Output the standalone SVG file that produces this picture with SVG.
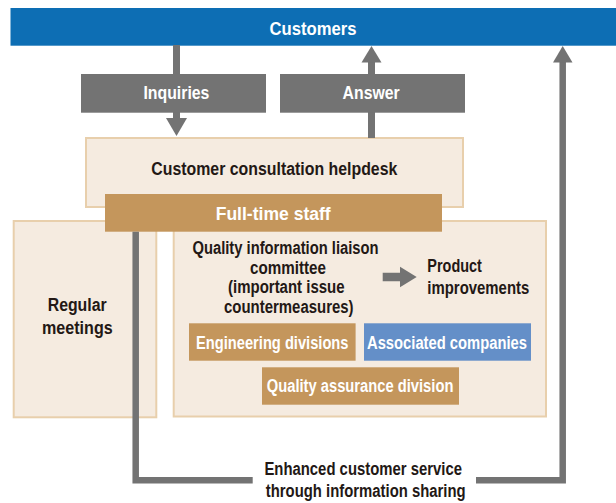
<svg xmlns="http://www.w3.org/2000/svg" width="616" height="503" viewBox="0 0 616 503">
<style>
text{font-family:"Liberation Sans Narrow","Liberation Sans",Arial,sans-serif;font-weight:bold;font-size:18px}
.w{fill:#ffffff}
.d{fill:#231815}
.bg{fill:#f5ebe0;stroke:#e8cfac;stroke-width:2}
.gold{fill:#c4965c}
.gray{fill:#737373}
.ln{fill:none;stroke:#737373;stroke-width:7}
.fb{fill:none;stroke:#737373;stroke-width:6.5;stroke-linejoin:miter}
</style>
<rect width="616" height="503" fill="#ffffff"/>
<g id="customers">
<rect x="10.5" y="8" width="606" height="37.7" fill="#0d6eb4"/>
<text class="w" x="269.5" y="35" font-size="21" textLength="87" lengthAdjust="spacingAndGlyphs">Customers</text>
</g>
<g id="regular-meetings">
<rect class="bg" x="13.7" y="221" width="142.6" height="196.3"/>
<text class="d" x="47.7" y="311" font-size="19" textLength="59" lengthAdjust="spacingAndGlyphs">Regular</text>
<text class="d" x="42" y="334.3" font-size="19" textLength="70.7" lengthAdjust="spacingAndGlyphs">meetings</text>
</g>
<g id="committee">
<rect class="bg" x="173.7" y="221" width="372.3" height="195.5"/>
<text class="d" x="192.5" y="254" textLength="186" lengthAdjust="spacingAndGlyphs">Quality information liaison</text>
<text class="d" x="250" y="273.5" textLength="76" lengthAdjust="spacingAndGlyphs">committee</text>
<text class="d" x="228" y="293.3" textLength="116.6" lengthAdjust="spacingAndGlyphs">(important issue</text>
<text class="d" x="224" y="312.7" textLength="129.6" lengthAdjust="spacingAndGlyphs">countermeasures)</text>
</g>
<g id="product-improvements">
<text class="d" x="427.3" y="272.3" textLength="54.6" lengthAdjust="spacingAndGlyphs">Product</text>
<text class="d" x="427.3" y="294" textLength="102" lengthAdjust="spacingAndGlyphs">improvements</text>
</g>
<g id="engineering">
<rect class="gold" x="189" y="323.3" width="166.6" height="37.4"/>
<text class="w" x="196" y="349" textLength="152.5" lengthAdjust="spacingAndGlyphs">Engineering divisions</text>
</g>
<g id="associated">
<rect x="364" y="323.3" width="167" height="37.4" fill="#648fc8"/>
<text class="w" x="367" y="349" textLength="160" lengthAdjust="spacingAndGlyphs">Associated companies</text>
</g>
<g id="quality-assurance">
<rect class="gold" x="262" y="367.3" width="197" height="37.4"/>
<text class="w" x="266.8" y="391.7" textLength="186.6" lengthAdjust="spacingAndGlyphs">Quality assurance division</text>
</g>
<g id="helpdesk">
<rect class="bg" x="86" y="138" width="377" height="69"/>
<text class="d" x="151.3" y="175" textLength="246" lengthAdjust="spacingAndGlyphs">Customer consultation helpdesk</text>
</g>
<g id="fulltime-staff">
<rect class="gold" x="105" y="194" width="337" height="37.7"/>
<text class="w" x="215.7" y="220" font-size="19" textLength="115" lengthAdjust="spacingAndGlyphs">Full-time staff</text>
</g>
<g id="connectors">
<line class="ln" x1="176.5" y1="45" x2="176.5" y2="119"/>
<polygon class="gray" points="166,118 187,118 176.5,136"/>
<line class="ln" x1="371.5" y1="138" x2="371.5" y2="61"/>
<polygon class="gray" points="361.5,62.5 381.5,62.5 371.5,46"/>
<path class="fb" d="M135.7,231.7 V480.3 H252.7"/>
<path class="fb" d="M476,480.3 H562.7 V61"/>
<polygon class="gray" points="553,62.5 572.5,62.5 562.7,46"/>
<line x1="382.7" y1="277" x2="401" y2="277" stroke="#737373" stroke-width="8.5"/>
<polygon class="gray" points="400,266.7 416.7,277 400,287.3"/>
</g>
<g id="inquiries">
<rect class="gray" x="81" y="74" width="185" height="38.7"/>
<text class="w" x="143.4" y="99" textLength="66" lengthAdjust="spacingAndGlyphs">Inquiries</text>
</g>
<g id="answer">
<rect class="gray" x="280" y="74" width="185" height="38.7"/>
<text class="w" x="342.6" y="99" textLength="57" lengthAdjust="spacingAndGlyphs">Answer</text>
</g>
<g id="enhanced-label">
<text class="d" x="264.4" y="475" textLength="197.6" lengthAdjust="spacingAndGlyphs">Enhanced customer service</text>
<text class="d" x="265.8" y="496.7" textLength="199.8" lengthAdjust="spacingAndGlyphs">through information sharing</text>
</g>
</svg>
